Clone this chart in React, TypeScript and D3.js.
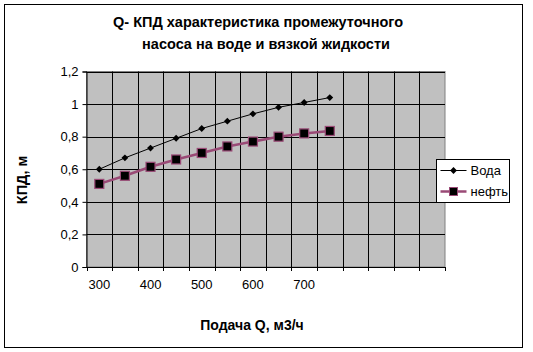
import { useEffect, useRef } from "react";
import * as d3 from "d3";

// Categories on the Q axis (Excel-style category axis, last slots empty)
const categories = [300, 350, 400, 450, 500, 550, 600, 650, 700, 750, 800, 850, 900, 950];
const tickLabels = ["300", "400", "500", "600", "700"];

// Efficiency values
const waterQ = [300, 350, 400, 450, 500, 550, 600, 650, 700, 750];
const waterEff = [0.6, 0.67, 0.73, 0.79, 0.85, 0.895, 0.94, 0.98, 1.01, 1.04];
const oilQ = [300, 350, 400, 450, 500, 550, 600, 650, 700, 750];
const oilEff = [0.51, 0.56, 0.615, 0.66, 0.7, 0.74, 0.77, 0.8, 0.82, 0.835];

const yTicks = [0, 0.2, 0.4, 0.6, 0.8, 1, 1.2];

const titleLines = ["Q- КПД характеристика промежуточного", "насоса на воде и вязкой жидкости"];

const W = 533;
const H = 352;
const FONT = "'Liberation Sans', Arial, sans-serif";
const OIL_COLOR = "#9a4a76";

export default function App() {
  const svgRef = useRef<SVGSVGElement>(null);

  useEffect(() => {
    if (!svgRef.current) return;
    const svg = d3.select(svgRef.current);
    svg.selectAll("*").remove();

    const plot = { left: 86.5, right: 445, top: 71.5, bottom: 267 };

    const x = d3
      .scaleBand<number>()
      .domain(categories)
      .range([plot.left, plot.right])
      .padding(0);

    const y = d3.scaleLinear().domain([0, 1.2]).range([plot.bottom, plot.top]);

    const cx = (q: number) => (x(q) as number) + x.bandwidth() / 2;

    // Background and outer frame
    svg.append("rect").attr("width", W).attr("height", H).attr("fill", "#fff");
    svg
      .append("rect")
      .attr("x", 4.5)
      .attr("y", 4.5)
      .attr("width", 518)
      .attr("height", 343)
      .attr("fill", "#fff")
      .attr("stroke", "#000")
      .attr("stroke-width", 1);

    // Title
    svg
      .append("text")
      .attr("font-family", FONT)
      .attr("font-size", 14.5)
      .attr("font-weight", "bold")
      .attr("text-anchor", "middle")
      .selectAll("tspan")
      .data(titleLines)
      .enter()
      .append("tspan")
      .attr("x", (_d, i) => (i === 0 ? 258 : 266))
      .attr("y", (_d, i) => 27 + i * 22)
      .text((d) => d);

    // Plot area
    svg
      .append("rect")
      .attr("x", plot.left)
      .attr("y", plot.top)
      .attr("width", plot.right - plot.left)
      .attr("height", plot.bottom - plot.top)
      .attr("fill", "#c0c0c0")
      .attr("stroke", "#808080")
      .attr("stroke-width", 1);

    // Horizontal gridlines
    svg
      .append("g")
      .selectAll("line")
      .data(yTicks.filter((t) => t > 0))
      .enter()
      .append("line")
      .attr("x1", plot.left)
      .attr("x2", plot.right)
      .attr("y1", (d) => Math.round(y(d)) + 0.5)
      .attr("y2", (d) => Math.round(y(d)) + 0.5)
      .attr("stroke", "#000")
      .attr("stroke-width", 1);

    // Vertical gridlines at category boundaries
    svg
      .append("g")
      .selectAll("line")
      .data(categories.slice(1))
      .enter()
      .append("line")
      .attr("x1", (d) => Math.round(x(d) as number) + 0.5)
      .attr("x2", (d) => Math.round(x(d) as number) + 0.5)
      .attr("y1", plot.top)
      .attr("y2", plot.bottom)
      .attr("stroke", "#000")
      .attr("stroke-width", 1);

    // Y axis
    const yAxis = svg
      .append("g")
      .attr("transform", `translate(${plot.left},0)`)
      .call(
        d3
          .axisLeft(y)
          .tickValues(yTicks)
          .tickSize(4)
          .tickPadding(4)
          .tickFormat((d) => d3.format("~g")(d as number).replace(".", ","))
      );
    yAxis.select(".domain").attr("stroke", "#000");
    yAxis.selectAll("line").attr("stroke", "#000");
    yAxis
      .selectAll("text")
      .attr("font-family", FONT)
      .attr("font-size", 13)
      .attr("fill", "#000");

    // X axis
    const xAxis = svg
      .append("g")
      .attr("transform", `translate(0,${plot.bottom})`)
      .call(
        d3
          .axisBottom(x)
          .tickSize(0)
          .tickPadding(13)
          .tickFormat((d) => (tickLabels.includes(String(d)) ? String(d) : ""))
      );
    xAxis.select(".domain").attr("stroke", "#000");
    xAxis
      .selectAll("text")
      .attr("font-family", FONT)
      .attr("font-size", 13)
      .attr("fill", "#000");

    // X tick marks at category boundaries
    svg
      .append("g")
      .selectAll("line")
      .data([...categories, null])
      .enter()
      .append("line")
      .attr("x1", (d) => Math.round(d === null ? plot.right : (x(d) as number)) + 0.5)
      .attr("x2", (d) => Math.round(d === null ? plot.right : (x(d) as number)) + 0.5)
      .attr("y1", plot.bottom)
      .attr("y2", plot.bottom + 4)
      .attr("stroke", "#000");

    // Axis titles
    svg
      .append("text")
      .attr("x", 252)
      .attr("y", 330)
      .attr("text-anchor", "middle")
      .attr("font-family", FONT)
      .attr("font-size", 14)
      .attr("font-weight", "bold")
      .text("Подача Q, м3/ч");

    svg
      .append("text")
      .attr("transform", `translate(27,180) rotate(-90)`)
      .attr("text-anchor", "middle")
      .attr("font-family", FONT)
      .attr("font-size", 14.5)
      .attr("font-weight", "bold")
      .text("КПД, м");

    const waterData = waterQ.map((q, i) => ({ q, v: waterEff[i] }));
    const oilData = oilQ.map((q, i) => ({ q, v: oilEff[i] }));

    const line = d3
      .line<{ q: number; v: number }>()
      .x((d) => cx(d.q))
      .y((d) => y(d.v));

    // Series: oil
    svg
      .append("path")
      .datum(oilData)
      .attr("fill", "none")
      .attr("stroke", OIL_COLOR)
      .attr("stroke-width", 2.5)
      .attr("d", line);

    // Series: water
    svg
      .append("path")
      .datum(waterData)
      .attr("fill", "none")
      .attr("stroke", "#000")
      .attr("stroke-width", 1)
      .attr("d", line);

    const diamond = d3.symbol().type(d3.symbolDiamond2).size(30);
    svg
      .append("g")
      .selectAll("path")
      .data(waterData)
      .enter()
      .append("path")
      .attr("transform", (d) => `translate(${cx(d.q)},${y(d.v)})`)
      .attr("d", diamond)
      .attr("fill", "#000");

    svg
      .append("g")
      .selectAll("rect")
      .data(oilData)
      .enter()
      .append("rect")
      .attr("x", (d) => cx(d.q) - 4.5)
      .attr("y", (d) => y(d.v) - 4.5)
      .attr("width", 9)
      .attr("height", 9)
      .attr("fill", "#000")
      .attr("stroke", OIL_COLOR)
      .attr("stroke-width", 1.2);

    // Legend
    const legend = svg.append("g").attr("transform", "translate(436.5,159.5)");
    legend
      .append("rect")
      .attr("width", 73)
      .attr("height", 43)
      .attr("fill", "#fff")
      .attr("stroke", "#000");

    legend
      .append("line")
      .attr("x1", 4)
      .attr("x2", 30)
      .attr("y1", 11)
      .attr("y2", 11)
      .attr("stroke", "#000");
    legend
      .append("path")
      .attr("transform", "translate(17,11)")
      .attr("d", diamond)
      .attr("fill", "#000");
    legend
      .append("text")
      .attr("x", 34)
      .attr("y", 15.5)
      .attr("font-family", FONT)
      .attr("font-size", 13)
      .text("Вода");

    legend
      .append("line")
      .attr("x1", 4)
      .attr("x2", 30)
      .attr("y1", 32)
      .attr("y2", 32)
      .attr("stroke", OIL_COLOR)
      .attr("stroke-width", 2.5);
    legend
      .append("rect")
      .attr("x", 13)
      .attr("y", 28)
      .attr("width", 8)
      .attr("height", 8)
      .attr("fill", "#000")
      .attr("stroke", OIL_COLOR);
    legend
      .append("text")
      .attr("x", 34)
      .attr("y", 36.5)
      .attr("font-family", FONT)
      .attr("font-size", 13)
      .text("нефть");
  }, []);

  return (
    <svg
      ref={svgRef}
      width={W}
      height={H}
      style={{ position: "fixed", left: 0, top: 0, display: "block" }}
    />
  );
}
